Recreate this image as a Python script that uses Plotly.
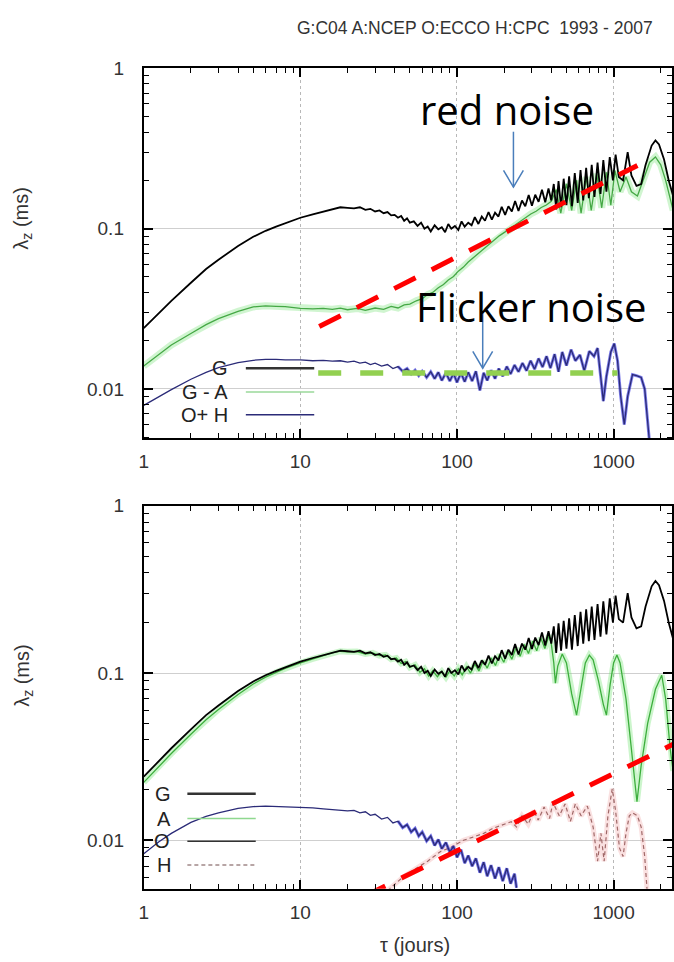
import plotly.graph_objects as go

# ---------------------------------------------------------------- data
# tau in days, lambda_z in ms
G_TAU = [1, 1.25, 1.5, 2, 2.5, 3, 4, 5, 6, 7,
         8, 10, 12, 14, 16, 18, 20, 22, 24, 26,
         28, 30, 32, 34, 36, 38, 40, 42, 44, 46,
         48, 50, 53, 56, 59, 62, 65, 68, 72, 76,
         80, 84, 88, 92, 97, 102, 107, 112, 118, 124,
         130, 137, 144, 151, 159, 167, 175, 184, 193, 203,
         213, 224, 235, 247, 260, 273, 287, 301, 316, 332,
         349, 366, 384, 400, 415, 430, 445, 462, 480, 500,
         520, 542, 565, 590, 615, 640, 668, 695, 725, 755,
         790, 825, 860, 900, 945, 990, 1030, 1080, 1150, 1230,
         1300, 1400, 1500, 1600, 1750, 1850, 1950, 2100, 2250, 2400]
G_VAL = [0.024, 0.030, 0.0355, 0.046, 0.056, 0.064, 0.078, 0.089, 0.097, 0.103,
         0.108, 0.117, 0.123, 0.128, 0.133, 0.136, 0.135, 0.134, 0.136, 0.131,
         0.133, 0.128, 0.130, 0.125, 0.127, 0.121, 0.122, 0.117, 0.120, 0.112,
         0.116, 0.109, 0.111, 0.104, 0.109, 0.100, 0.103, 0.096, 0.105, 0.099,
         0.102, 0.095, 0.107, 0.100, 0.104, 0.098, 0.111, 0.103, 0.109, 0.105,
         0.118, 0.107, 0.119, 0.112, 0.127, 0.114, 0.126, 0.119, 0.137, 0.122,
         0.138, 0.128, 0.149, 0.129, 0.150, 0.138, 0.162, 0.139, 0.163, 0.147,
         0.175, 0.146, 0.178, 0.150, 0.190, 0.132, 0.198, 0.136, 0.205, 0.140,
         0.212, 0.138, 0.222, 0.145, 0.232, 0.150, 0.240, 0.155, 0.250, 0.158,
         0.258, 0.165, 0.268, 0.170, 0.280, 0.200, 0.290, 0.210, 0.200, 0.300,
         0.215, 0.185, 0.190, 0.250, 0.330, 0.355, 0.335, 0.270, 0.200, 0.160]

GA_TAU = [1, 1.25, 1.5, 2, 2.5, 3, 4, 5, 6, 7,
          8, 10, 12, 14, 16, 18, 20, 23, 26, 30,
          34, 38, 42, 46, 50, 55, 60, 65, 70, 76,
          82, 88, 95, 102, 110, 118, 127, 137, 148, 160,
          173, 187, 202, 218, 235, 254, 274, 296, 320, 345,
          372, 400, 430, 460, 500, 540, 580, 620, 670, 720,
          780, 840, 900, 960, 1020, 1100, 1200, 1300, 1420, 1550,
          1700, 1850, 2000, 2150, 2300, 2400]
GA_VAL = [0.0139, 0.0165, 0.0188, 0.0222, 0.0252, 0.0275, 0.0305, 0.0325, 0.0330, 0.0328,
          0.0326, 0.0318, 0.0316, 0.0318, 0.0314, 0.0319, 0.0312, 0.0318, 0.0309, 0.0320,
          0.0314, 0.0327, 0.0320, 0.0335, 0.0338, 0.0355, 0.0366, 0.0388, 0.0400, 0.0428,
          0.0448, 0.0478, 0.0503, 0.0543, 0.0576, 0.0620, 0.0658, 0.0708, 0.0748, 0.0803,
          0.0848, 0.0905, 0.0952, 0.1010, 0.1055, 0.1115, 0.1165, 0.1235, 0.1285, 0.1355,
          0.1405, 0.1480, 0.175, 0.125, 0.190, 0.130, 0.200, 0.125, 0.210, 0.130,
          0.220, 0.135, 0.225, 0.140, 0.230, 0.170, 0.210, 0.170, 0.160, 0.200,
          0.260, 0.280, 0.250, 0.200, 0.150, 0.130]

OH_TAU = [1, 1.25, 1.5, 2, 2.5, 3, 4, 5, 6, 7,
          8, 10, 12, 14, 16, 18, 20, 22, 24, 26,
          28, 30, 33, 36, 39, 42, 45, 48, 51, 54,
          57, 60, 64, 68, 72, 76, 80, 85, 90, 95,
          100, 106, 112, 118, 125, 132, 140, 148, 156, 165,
          175, 185, 196, 208, 220, 233, 247, 262, 278, 295,
          313, 332, 352, 373, 395, 420, 445, 470, 500, 535,
          570, 610, 650, 700, 750, 790, 830, 860, 900, 960,
          1010, 1060, 1110, 1170, 1230, 1320, 1400, 1500, 1580, 1650,
          1720]
OH_VAL = [0.0079, 0.0090, 0.0099, 0.0115, 0.0127, 0.0136, 0.0146, 0.0151, 0.0153, 0.0153,
          0.0152, 0.0152, 0.0150, 0.0151, 0.0149, 0.0150, 0.0147, 0.0149, 0.0145, 0.0147,
          0.0142, 0.0145, 0.0139, 0.0142, 0.0134, 0.0138, 0.0129, 0.0134, 0.0124, 0.0131,
          0.0121, 0.0129, 0.0118, 0.0128, 0.0116, 0.0127, 0.0113, 0.0126, 0.0112, 0.0125,
          0.0110, 0.0126, 0.0111, 0.0127, 0.0112, 0.0129, 0.0098, 0.0126, 0.0113, 0.0131,
          0.0116, 0.0134, 0.0120, 0.0138, 0.0124, 0.0141, 0.0128, 0.0145, 0.0130, 0.0150,
          0.0133, 0.0155, 0.0137, 0.0160, 0.0135, 0.0165, 0.0128, 0.0170, 0.0140, 0.0176,
          0.0150, 0.0163, 0.0130, 0.0172, 0.0160, 0.0180, 0.0120, 0.0084, 0.0120, 0.0170,
          0.0192, 0.0150, 0.0090, 0.0060, 0.0090, 0.0123, 0.0121, 0.0118, 0.0100, 0.0065,
          0.0040]

A_TAU = [1, 1.25, 1.5, 2, 2.5, 3, 4, 5, 6, 7,
         8, 10, 12, 14, 16, 18, 20, 23, 26, 29,
         32, 35, 38, 41, 44, 47, 50, 54, 58, 62,
         66, 70, 75, 80, 85, 90, 96, 102, 108, 115,
         122, 130, 138, 147, 156, 166, 176, 187, 199, 211,
         224, 238, 253, 269, 286, 304, 323, 343, 364, 387,
         400, 415, 425, 440, 470, 500, 540, 580, 620, 660,
         700, 740, 800, 860, 900, 950, 1000, 1050, 1100, 1200,
         1300, 1410, 1500, 1650, 1850, 2030, 2150, 2300, 2400]
A_VAL = [0.0222, 0.0278, 0.0330, 0.0430, 0.0525, 0.0605, 0.0745, 0.0860, 0.0945, 0.1010,
         0.1065, 0.1150, 0.1215, 0.1270, 0.1320, 0.1350, 0.1340, 0.1345, 0.1300, 0.1320,
         0.1270, 0.1285, 0.1210, 0.1230, 0.1140, 0.1170, 0.1080, 0.1120, 0.1010, 0.1060,
         0.0960, 0.1030, 0.0950, 0.1020, 0.0945, 0.1030, 0.0960, 0.1060, 0.0975, 0.1090,
         0.1000, 0.1130, 0.1030, 0.1180, 0.1070, 0.1230, 0.1110, 0.1290, 0.1160, 0.1350,
         0.1210, 0.1410, 0.1260, 0.1480, 0.1310, 0.1550, 0.1360, 0.1620, 0.1400, 0.1680,
         0.150, 0.115, 0.087, 0.110, 0.130, 0.115, 0.075, 0.056, 0.080, 0.115,
         0.128, 0.120, 0.090, 0.065, 0.056, 0.085, 0.115, 0.128, 0.115, 0.070,
         0.035, 0.017, 0.028, 0.050, 0.080, 0.097, 0.070, 0.035, 0.026]

O_TAU = [1, 1.25, 1.5, 2, 2.5, 3, 4, 5, 6, 7,
         8, 10, 12, 14, 16, 18, 20, 22, 24, 26,
         28, 30, 33, 36, 39, 42, 45, 48, 51, 54,
         57, 60, 64, 68, 72, 76, 80, 85, 90, 95,
         100, 106, 112, 118, 125, 132, 140, 148, 156, 165,
         175, 185, 196, 208, 220, 233, 240]
O_VAL = [0.0083, 0.0098, 0.0110, 0.0128, 0.0139, 0.0146, 0.0155, 0.0159, 0.0160, 0.0159,
         0.0158, 0.0158, 0.0156, 0.0154, 0.0153, 0.0152, 0.0150, 0.0151, 0.0146, 0.0148,
         0.0141, 0.0143, 0.0134, 0.0137, 0.0127, 0.0130, 0.0119, 0.0124, 0.0112, 0.0118,
         0.0106, 0.0112, 0.0099, 0.0106, 0.0093, 0.0101, 0.0089, 0.0097, 0.0085, 0.0092,
         0.0079, 0.0088, 0.0073, 0.0081, 0.0070, 0.0078, 0.0064, 0.0074, 0.0061, 0.0071,
         0.0059, 0.0069, 0.0057, 0.0068, 0.0055, 0.0063, 0.0052]

H_TAU = [36, 45, 55, 65, 79, 90, 98, 110, 125, 148,
         170, 190, 222, 240, 260, 285, 310, 330, 360, 390,
         410, 450, 490, 530, 570, 620, 680, 740, 790, 830,
         870, 920, 980, 1030, 1090, 1150, 1200, 1260, 1320, 1420,
         1500, 1580, 1650]
H_VAL = [0.0050, 0.0060, 0.0068, 0.0075, 0.0086, 0.0090, 0.0094, 0.0100, 0.0104, 0.0110,
         0.0118, 0.0123, 0.0129, 0.0120, 0.0140, 0.0125, 0.0150, 0.0132, 0.0158, 0.0135,
         0.0168, 0.0140, 0.0165, 0.0130, 0.0165, 0.0140, 0.0160, 0.0120, 0.0075, 0.0110,
         0.0075, 0.0140, 0.0203, 0.0150, 0.0090, 0.0080, 0.0110, 0.0140, 0.0146, 0.0140,
         0.0120, 0.0080, 0.0045]

# noise-model guide lines (tau, lambda_z)
RED_TOP_TAU = [13.2, 1420]
RED_TOP_VAL = [0.0245, 0.248]
FLICKER_TAU = [13.0, 1060]
FLICKER_VAL = [0.01256, 0.01256]
RED_BOT_TAU = [25.4, 2400]
RED_BOT_VAL = [0.0046, 0.0375]

X_TICKS = [1, 10, 100, 1000]
X_TICK_TEXT = ["1", "10", "100", "1000"]
Y_TICKS = [0.01, 0.1, 1]
Y_TICK_TEXT = ["0.01", "0.1", "1"]
X_MINOR = [2, 3, 4, 5, 6, 7, 8, 9, 20, 30, 40, 50, 60, 70, 80, 90,
           200, 300, 400, 500, 600, 700, 800, 900, 2000]
Y_MINOR = [0.002, 0.003, 0.004, 0.005, 0.006, 0.007, 0.008, 0.009,
           0.02, 0.03, 0.04, 0.05, 0.06, 0.07, 0.08, 0.09,
           0.2, 0.3, 0.4, 0.5, 0.6, 0.7, 0.8, 0.9]

TITLE = "G:C04 A:NCEP O:ECCO H:CPC \u00a01993 - 2007"

# ---------------------------------------------------------------- layout helpers
W, H = 674, 962


def fx(p):
    return p / W


def fy(p):
    return 1 - p / H


FONT = "Liberation Sans, Arial, sans-serif"


def line_trace(x, y, xa, ya, color, width, dash="solid"):
    return go.Scatter(x=x, y=y, mode="lines", xaxis=xa, yaxis=ya,
                      line=dict(color=color, width=width, dash=dash),
                      hoverinfo="skip", showlegend=False)


def after(tau, val, start):
    pairs = [(t, v) for t, v in zip(tau, val) if t >= start]
    return [p[0] for p in pairs], [p[1] for p in pairs]


fig = go.Figure()

# ---- top panel: G, G - A, O + H
fig.add_trace(line_trace(GA_TAU, GA_VAL, "x", "y", "rgba(120,225,120,0.35)", 7))
fig.add_trace(line_trace(GA_TAU, GA_VAL, "x", "y", "#45a845", 1.3))
t, v = after(OH_TAU, OH_VAL, 40)
fig.add_trace(line_trace(t, v, "x", "y", "rgba(40,40,220,0.6)", 3))
fig.add_trace(line_trace(OH_TAU, OH_VAL, "x", "y", "#2b2b78", 1.3))
fig.add_trace(line_trace(G_TAU, G_VAL, "x", "y", "#000000", 1.8))
fig.add_trace(line_trace(RED_TOP_TAU, RED_TOP_VAL, "x", "y", "#ff0000", 5, "24px,18px"))
fig.add_trace(line_trace(FLICKER_TAU, FLICKER_VAL, "x", "y", "#92d050", 5.5, "23px,19px"))

# ---- bottom panel: G, A, O, H
fig.add_trace(line_trace(A_TAU, A_VAL, "x2", "y2", "rgba(110,225,110,0.35)", 6))
fig.add_trace(line_trace(A_TAU, A_VAL, "x2", "y2", "#3dae3d", 1.3))
fig.add_trace(line_trace(H_TAU, H_VAL, "x2", "y2", "rgba(240,170,170,0.35)", 5))
fig.add_trace(line_trace(H_TAU, H_VAL, "x2", "y2", "#a06868", 1.2, "4px,3px"))
t, v = after(O_TAU, O_VAL, 40)
fig.add_trace(line_trace(t, v, "x2", "y2", "rgba(40,40,220,0.65)", 3))
fig.add_trace(line_trace(O_TAU, O_VAL, "x2", "y2", "#2b2b78", 1.3))
fig.add_trace(line_trace(G_TAU, G_VAL, "x2", "y2", "#000000", 1.8))
fig.add_trace(line_trace(RED_BOT_TAU, RED_BOT_VAL, "x2", "y2", "#ff0000", 5, "24px,18px"))


def x_axis(anchor):
    return dict(type="log", range=[0, 3.373], domain=[fx(140), fx(673)], anchor=anchor,
                tickmode="array", tickvals=X_TICKS, ticktext=X_TICK_TEXT,
                ticks="inside", ticklen=9, tickwidth=1.5, tickcolor="black",
                showline=True, linewidth=2, linecolor="black", mirror="allticks",
                showgrid=True, gridcolor="#b8b8b8", griddash="dot", gridwidth=1,
                zeroline=False, ticklabelstandoff=5,
                tickfont=dict(family=FONT, size=19, color="#333333"),
                minor=dict(tickmode="array", tickvals=X_MINOR, ticks="inside",
                           ticklen=5, tickwidth=1.2, tickcolor="black", showgrid=False))


def y_axis(anchor, dom, lo):
    return dict(type="log", range=[lo, 0], domain=dom, anchor=anchor,
                tickmode="array", tickvals=Y_TICKS, ticktext=Y_TICK_TEXT,
                ticks="inside", ticklen=9, tickwidth=1.5, tickcolor="black",
                showline=True, linewidth=2, linecolor="black", mirror="allticks",
                showgrid=True, gridcolor="#cfcfcf", gridwidth=1,
                zeroline=False, ticklabelstandoff=14,
                tickfont=dict(family=FONT, size=19, color="#333333"),
                minor=dict(tickmode="array", tickvals=Y_MINOR, ticks="inside",
                           ticklen=5, tickwidth=1.2, tickcolor="black", showgrid=False))


fig.update_layout(
    width=W, height=H,
    margin=dict(l=0, r=0, t=0, b=0),
    paper_bgcolor="white", plot_bgcolor="white",
    showlegend=False,
    xaxis=x_axis("y"),
    yaxis=y_axis("x", [fy(433), fy(59)], -2.309),
    xaxis2=x_axis("y2"),
    yaxis2=y_axis("x2", [fy(888), fy(501)], -2.290),
)

annotations = []
shapes = []


def text(x, y, s, size, family=FONT, color="#222222", anchor="center", angle=0):
    annotations.append(dict(xref="paper", yref="paper", x=fx(x), y=fy(y), text=s,
                            showarrow=False, xanchor=anchor, yanchor="middle",
                            textangle=angle,
                            font=dict(family=family, size=size, color=color)))


def seg(x0, x1, y, color, width, dash="solid"):
    shapes.append(dict(type="line", xref="paper", yref="paper",
                       x0=fx(x0), x1=fx(x1), y0=fy(y), y1=fy(y),
                       line=dict(color=color, width=width, dash=dash)))


def arrow(x, y0, y1):
    # vertical shaft with an open V head at the lower end
    color = "#4a7ebb"
    shapes.append(dict(type="line", xref="paper", yref="paper",
                       x0=fx(x), x1=fx(x), y0=fy(y0), y1=fy(y1),
                       line=dict(color=color, width=1.5)))
    path = (f"M {fx(x - 10)} {fy(y1 - 17)} L {fx(x)} {fy(y1)} "
            f"L {fx(x + 10)} {fy(y1 - 17)}")
    shapes.append(dict(type="path", xref="paper", yref="paper", path=path,
                       line=dict(color=color, width=1.5)))


# titles and axis labels
text(474, 18, TITLE, 17.5, color="#333333")
text(18, 210, "\u03bb<sub>z</sub> (ms)", 20, color="#333333", angle=-90)
text(18, 672, "\u03bb<sub>z</sub> (ms)", 20, color="#333333", angle=-90)
text(414, 945, "\u03c4 (jours)", 20, color="#333333")

# legends
text(227, 362, "G", 20, anchor="right")
text(227, 386, "G - A", 20, anchor="right")
text(227, 409, "O+ H", 20, anchor="right")
seg(243, 312, 362, "#333333", 2.5)
seg(243, 312, 386, "#9ad89a", 1.5)
seg(243, 312, 409, "#2b2b78", 1.3)

text(170, 792, "G", 20, anchor="right")
text(170, 817, "A", 20, anchor="right")
text(168, 840, "O", 20, anchor="right")
text(170, 864, "H", 20, anchor="right")
seg(184, 253, 792, "#333333", 2.5)
seg(184, 253, 817, "#8fd88f", 1.5)
seg(184, 253, 840, "#333333", 1.5)
seg(184, 253, 864, "#a08888", 1.3, "4px,3px")

# noise labels
text(507, 101, "red noise", 40, family="Open Sans", color="#000000")
arrow(513, 123, 179)
text(531, 300, "Flicker noise", 40, family="Open Sans", color="#000000")
arrow(482, 305, 362)

fig.update_layout(annotations=annotations, shapes=shapes)

fig.write_html("out.html")
